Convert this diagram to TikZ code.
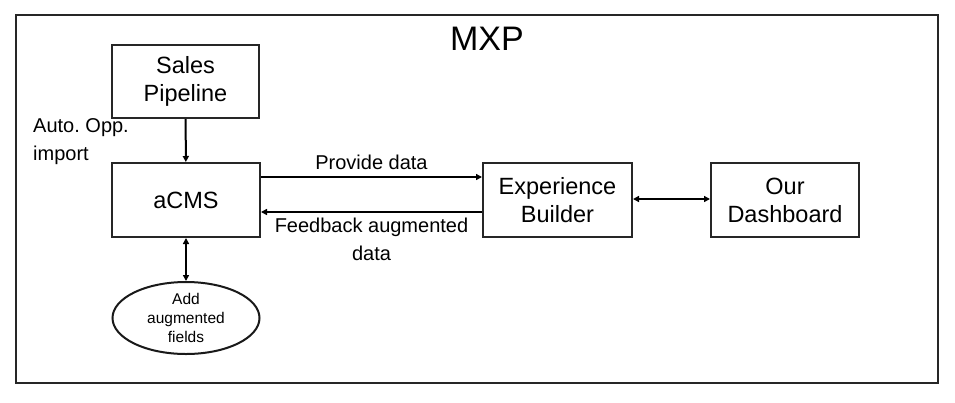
\documentclass[tikz,border=0pt]{standalone}
\usepackage{fontspec}
\setmainfont{Liberation Sans}
\usetikzlibrary{shapes.geometric,arrows.meta}
\frenchspacing
\begin{document}
\begin{tikzpicture}[x=1pt,y=-1pt,
  box/.style={draw=black!85,line width=2pt,rectangle,align=center,inner sep=0pt,font=\fontsize{23.5}{28}\selectfont},
  oval/.style={draw=black!90,line width=2pt,ellipse,align=center,inner sep=0pt,font=\fontsize{15.5}{19}\selectfont},
  lbl/.style={font=\fontsize{20}{28}\selectfont,inner sep=0pt,align=center},
  conn/.style={line width=2pt,-{Triangle[length=6pt,width=6pt]}},
  conn2/.style={line width=2pt,{Triangle[length=6pt,width=6pt]}-{Triangle[length=6pt,width=6pt]}}]
\useasboundingbox (0,0) rectangle (955,402);
\node[draw=black!85,line width=2pt,minimum width=922pt,minimum height=368pt,inner sep=0pt] (frame) at (477,199) {};
\node[font=\fontsize{34}{40}\selectfont,inner sep=0pt] (title) at (487,39) {MXP};
\node[box,minimum width=147pt,minimum height=73pt] (sales) at (185.5,81.5) {Sales\\Pipeline};
\node[box,minimum width=148pt,minimum height=74pt] (acms) at (186,200) {aCMS};
\node[oval,minimum width=147pt,minimum height=72pt] (add) at (186,318) {Add\\augmented\\fields};
\node[box,minimum width=149pt,minimum height=74pt] (exp) at (557.5,200) {Experience\\Builder};
\node[box,minimum width=148pt,minimum height=74pt] (dash) at (785,200) {Our\\Dashboard};
\node[lbl,anchor=west,align=left] (auto) at (33,142) {Auto. Opp.\\import};
\draw[conn] (sales) -- (acms);
\draw[conn2] (acms) -- (add);
\draw[conn] ([yshift=23pt]acms.east) -- ([yshift=23pt]exp.west) node[lbl,midway,above=6pt] (prov) {Provide data};
\draw[conn] ([yshift=-12pt]exp.west) -- ([yshift=-12pt]acms.east) node[lbl,midway,below=5pt,anchor=north] (feed) {Feedback augmented\\data};
\draw[conn2] ([yshift=1pt]exp.east) -- ([yshift=1pt]dash.west);
\end{tikzpicture}
\end{document}
